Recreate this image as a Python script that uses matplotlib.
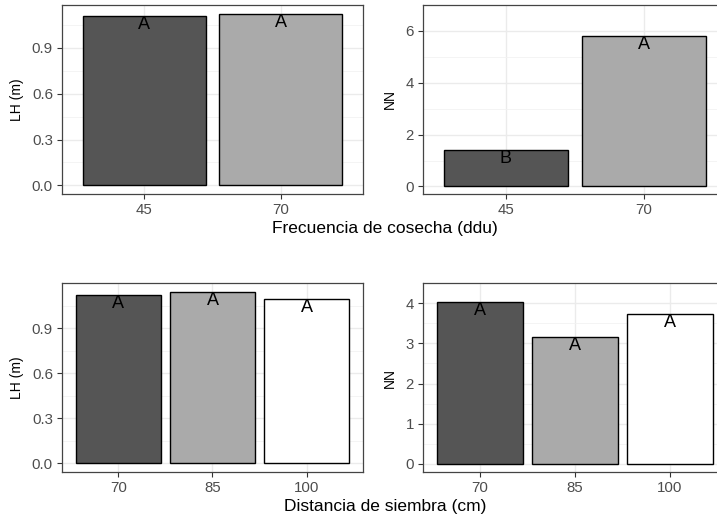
import matplotlib
matplotlib.use("Agg")
import matplotlib.pyplot as plt
import numpy as np

plt.rcParams['font.family'] = ['Liberation Sans', 'DejaVu Sans']

# datos
frecuencia = ['45', '70']
lh_frec = [1.108, 1.124]
nn_frec = [1.41, 5.80]
letras_lh_frec = ['A', 'A']
letras_nn_frec = ['B', 'A']

distancia = ['70', '85', '100']
lh_dist = [1.117, 1.143, 1.095]
nn_dist = [4.02, 3.15, 3.73]
letras_lh_dist = ['A', 'A', 'A']
letras_nn_dist = ['A', 'A', 'A']

colores = ['#555555', '#AAAAAA', '#FFFFFF']
W, H = 717, 518


def panel(rect, cats, vals, letras, yticks, ylabel, fmt):
    x0, y0, x1, y1 = rect
    ax = fig.add_axes([x0 / W, 1 - y1 / H, (x1 - x0) / W, (y1 - y0) / H])
    n = len(cats)
    pos = np.arange(1, n + 1)
    ax.bar(pos, vals, width=0.9, color=colores[:n], edgecolor='black',
           linewidth=1.0, zorder=3)
    for p, v, l in zip(pos, vals, letras):
        ax.text(p, v, l, ha='center', va='top', fontsize=13, color='black', zorder=4)
    ax.set_xlim(0.4, n + 0.6)
    vmax = max(vals)
    ax.set_ylim(-0.05 * vmax, 1.05 * vmax)
    ax.set_xticks(pos)
    ax.set_xticklabels(cats)
    ax.set_yticks(yticks)
    ax.set_yticklabels([fmt.format(t) for t in yticks])
    step = yticks[1] - yticks[0]
    minors = [t + step / 2 for t in yticks]
    ax.set_yticks(minors, minor=True)
    ax.tick_params(axis='y', which='minor', length=0)
    ax.grid(True, which='major', color='#EBEBEB', linewidth=1.0, zorder=0)
    ax.grid(True, which='minor', axis='y', color='#F2F2F2', linewidth=0.6, zorder=0)
    ax.set_axisbelow(True)
    ax.tick_params(axis='both', which='major', length=3.5, width=0.8,
                   color='#333333', labelcolor='#4D4D4D', labelsize=10.8, pad=3)
    for s in ax.spines.values():
        s.set_color('#444444')
        s.set_linewidth(0.9)
    ax.set_ylabel(ylabel, fontsize=10, color='black', labelpad=6)
    return ax


fig = plt.figure(figsize=(W / 100, H / 100), dpi=100)

panel((62, 5, 363, 194), frecuencia, lh_frec, letras_lh_frec,
      [0.0, 0.3, 0.6, 0.9], 'LH (m)', '{:.1f}')
panel((423, 5, 727, 194), frecuencia, nn_frec, letras_nn_frec,
      [0, 2, 4, 6], 'NN', '{:d}')
panel((62, 283, 363, 472), distancia, lh_dist, letras_lh_dist,
      [0.0, 0.3, 0.6, 0.9], 'LH (m)', '{:.1f}')
panel((423, 283, 727, 472), distancia, nn_dist, letras_nn_dist,
      [0, 1, 2, 3, 4], 'NN', '{:d}')

fig.text(385 / W, 1 - 229 / H, 'Frecuencia de cosecha (ddu)', ha='center',
         va='center', fontsize=12.5)
fig.text(385 / W, 1 - 507 / H, 'Distancia de siembra (cm)', ha='center',
         va='center', fontsize=12.5)

fig.savefig('out.png', dpi=100)
